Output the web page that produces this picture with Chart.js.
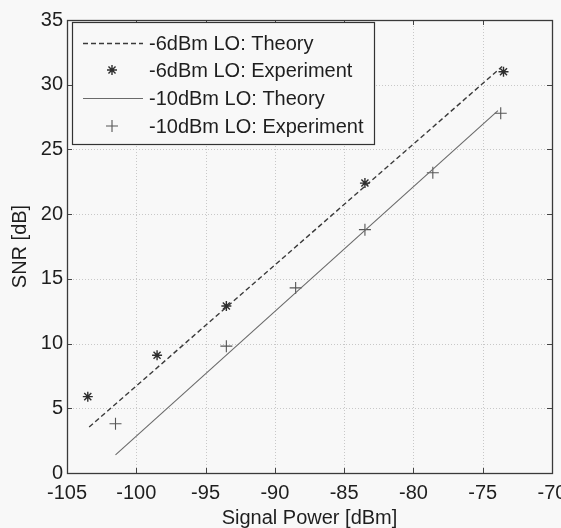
<!DOCTYPE html>
<html>
<head>
<meta charset="utf-8">
<script src="https://cdn.jsdelivr.net/npm/chart.js@4/dist/chart.umd.min.js"></script>
<style>
  html, body { margin: 0; padding: 0; background: #f8f8f8; }
  #wrap { width: 561px; height: 528px; position: relative; }
</style>
</head>
<body>
<div id="wrap"><canvas id="c" width="561" height="528"></canvas></div>
<script>
// ---- data ----
const theory6X = [-103.4, -73.6];
const theory6Y = [3.55, 31.4];
const exp6X = [-103.5, -98.5, -93.5, -83.5, -73.5];
const exp6Y = [5.9, 9.1, 12.9, 22.4, 31.0];
const theory10X = [-101.5, -73.9];
const theory10Y = [1.4, 28.0];
const exp10X = [-101.5, -93.5, -88.5, -83.5, -78.6, -73.7];
const exp10Y = [3.8, 9.8, 14.3, 18.8, 23.2, 27.8];
const seriesLabels = ['-6dBm LO: Theory', '-6dBm LO: Experiment', '-10dBm LO: Theory', '-10dBm LO: Experiment'];
const xTitle = 'Signal Power [dBm]';
const yTitle = 'SNR [dB]';
const xRange = [-105, -70];
const yRange = [0, 35];
const tickStep = 5;

const pts = (xs, ys) => xs.map((x, i) => ({x: x, y: ys[i]}));
const FONT = 'Arial, "Liberation Sans", Helvetica, sans-serif';
const BG = '#f8f8f8';

const datasets = [
  { label: seriesLabels[0], data: pts(theory6X, theory6Y), showLine: true, borderColor: '#3a3a3a', borderWidth: 1.4, borderDash: [5, 3], pointRadius: 0, fill: false },
  { label: seriesLabels[1], data: pts(exp6X, exp6Y), showLine: false, pointStyle: 'star', pointRadius: 5, borderColor: '#2e2e2e', backgroundColor: '#2e2e2e', pointBorderWidth: 1.4 },
  { label: seriesLabels[2], data: pts(theory10X, theory10Y), showLine: true, borderColor: '#6a6a6a', borderWidth: 1.1, pointRadius: 0, fill: false },
  { label: seriesLabels[3], data: pts(exp10X, exp10Y), showLine: false, pointStyle: 'cross', pointRadius: 6, borderColor: '#555555', backgroundColor: '#555555', pointBorderWidth: 1.1 }
];

const gridPlugin = {
  id: 'dottedGrid',
  beforeDatasetsDraw(chart) {
    const {ctx, chartArea: a, scales: {x, y}} = chart;
    ctx.save();
    ctx.strokeStyle = '#c8c8c8';
    ctx.lineWidth = 1;
    ctx.setLineDash([1, 2]);
    x.ticks.forEach(t => {
      const px = Math.round(x.getPixelForValue(t.value)) + 0.5;
      ctx.beginPath(); ctx.moveTo(px, a.top); ctx.lineTo(px, a.bottom); ctx.stroke();
    });
    y.ticks.forEach(t => {
      const py = Math.round(y.getPixelForValue(t.value)) + 0.5;
      ctx.beginPath(); ctx.moveTo(a.left, py); ctx.lineTo(a.right, py); ctx.stroke();
    });
    ctx.restore();
  }
};

const boxPlugin = {
  id: 'matlabBox',
  afterDatasetsDraw(chart) {
    const {ctx, chartArea: a, scales: {x, y}} = chart;
    ctx.save();
    // inner tick marks on all sides
    ctx.strokeStyle = '#444';
    ctx.lineWidth = 1;
    const tl = 5;
    x.ticks.forEach(t => {
      const px = Math.round(x.getPixelForValue(t.value)) + 0.5;
      ctx.beginPath();
      ctx.moveTo(px, a.bottom); ctx.lineTo(px, a.bottom - tl);
      ctx.moveTo(px, a.top); ctx.lineTo(px, a.top + tl);
      ctx.stroke();
    });
    y.ticks.forEach(t => {
      const py = Math.round(y.getPixelForValue(t.value)) + 0.5;
      ctx.beginPath();
      ctx.moveTo(a.left, py); ctx.lineTo(a.left + tl, py);
      ctx.moveTo(a.right, py); ctx.lineTo(a.right - tl, py);
      ctx.stroke();
    });
    // legend
    const lx = a.left + 5, ly = a.top + 2, lw = 302, lh = 122;
    ctx.fillStyle = BG;
    ctx.fillRect(lx, ly, lw, lh);
    ctx.strokeStyle = '#333';
    ctx.lineWidth = 1.2;
    ctx.strokeRect(lx + 0.5, ly + 0.5, lw, lh);
    const rows = [ly + 21, ly + 48, ly + 76, ly + 104];
    const sx0 = lx + 11, sx1 = lx + 71, tx = lx + 77;
    chart.data.datasets.forEach((ds, i) => {
      const ry = rows[i];
      ctx.save();
      if (ds.showLine) {
        ctx.strokeStyle = ds.borderColor;
        ctx.lineWidth = ds.borderWidth;
        ctx.setLineDash(ds.borderDash || []);
        ctx.beginPath();
        ctx.moveTo(sx0, ry + 0.5); ctx.lineTo(sx1, ry + 0.5);
        ctx.stroke();
      } else {
        ctx.strokeStyle = ds.borderColor;
        ctx.fillStyle = ds.backgroundColor;
        ctx.lineWidth = ds.pointBorderWidth;
        Chart.helpers.drawPoint(ctx, {pointStyle: ds.pointStyle, radius: ds.pointRadius, borderWidth: ds.pointBorderWidth, rotation: 0}, (sx0 + sx1) / 2 - 1, ry);
      }
      ctx.restore();
      ctx.fillStyle = '#1e1e1e';
      ctx.font = '20px ' + FONT;
      ctx.textBaseline = 'middle';
      ctx.textAlign = 'left';
      ctx.fillText(ds.label, tx, ry + 1);
    });
    // axes box
    ctx.strokeStyle = '#3a3a3a';
    ctx.lineWidth = 1.3;
    ctx.strokeRect(a.left + 0.5, a.top + 0.5, a.right - a.left, a.bottom - a.top);
    ctx.restore();
  }
};

new Chart(document.getElementById('c'), {
  type: 'scatter',
  data: { datasets: datasets },
  options: {
    responsive: false,
    animation: false,
    layout: { padding: { left: 0, right: 9, top: 20, bottom: 0 } },
    plugins: { legend: { display: false }, tooltip: { enabled: false } },
    scales: {
      x: {
        type: 'linear', min: xRange[0], max: xRange[1],
        ticks: { stepSize: tickStep, color: '#1e1e1e', font: { size: 20, family: FONT }, padding: 8, maxRotation: 0, autoSkip: false },
        grid: { display: false, drawTicks: false },
        border: { display: false },
        title: { display: true, text: xTitle, color: '#1e1e1e', font: { size: 20, family: FONT, lineHeight: 1 }, padding: { top: 0, bottom: 0 } },
        afterFit(s) { s.height = 55; s.paddingLeft = 0; s.paddingRight = 0; }
      },
      y: {
        type: 'linear', min: yRange[0], max: yRange[1],
        ticks: { stepSize: tickStep, color: '#1e1e1e', font: { size: 20, family: FONT }, padding: 4 },
        grid: { display: false, drawTicks: false },
        border: { display: false },
        title: { display: true, text: yTitle, color: '#1e1e1e', font: { size: 20, family: FONT, lineHeight: 1 }, padding: { top: 10, bottom: 0 } },
        afterFit(s) { s.width = 67; s.paddingTop = 0; s.paddingBottom = 0; }
      }
    }
  },
  plugins: [gridPlugin, boxPlugin]
});
</script>
</body>
</html>
